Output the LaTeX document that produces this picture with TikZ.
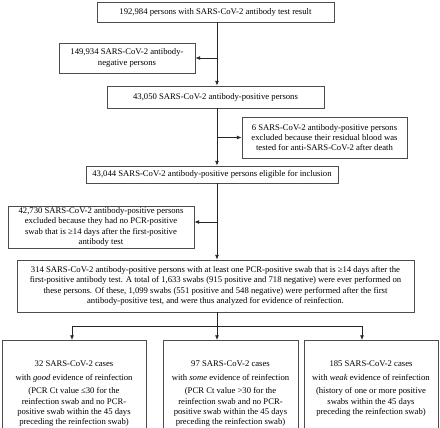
\documentclass[tikz,border=0pt]{standalone}
\usepackage{fontspec}
\setmainfont{Liberation Serif}
\usetikzlibrary{arrows.meta}

\begin{document}
\begin{tikzpicture}[x=0.75pt,y=-0.75pt,
  box/.style={draw=black!70,line width=0.6pt,align=center,inner sep=0pt,font=\fontsize{6.5}{7.7}\selectfont},
  endbox/.style={box,anchor=north,inner ysep=15.5pt},
  link/.style={line width=0.6pt,draw=black!85},
  arr/.style={link,-{Latex[length=3.5pt,width=3pt]}}]
\useasboundingbox (0,0) rectangle (440,428);
\clip (0,0) rectangle (440,428);

% main column
\node[box,minimum width=177.75pt,minimum height=15pt] (b1) at (215.5,12) {192,984 persons with SARS-CoV-2 antibody test result};
\node[box,minimum width=102pt,minimum height=22.5pt] (b2) at (127,58) {149,934 SARS-CoV-2 antibody-\\negative persons};
\node[box,minimum width=162.75pt,minimum height=16.5pt] (b3) at (215.5,97) {43,050 SARS-CoV-2 antibody-positive persons};
\node[box,minimum width=123.75pt,minimum height=30.75pt] (b4) at (324.5,137.5) {6 SARS-CoV-2 antibody-positive persons\\excluded because their residual blood was\\tested for anti-SARS-CoV-2 after death};
\node[box,minimum width=189pt,minimum height=12.75pt] (b5) at (212,174.5) {43,044 SARS-CoV-2 antibody-positive persons eligible for inclusion};
\node[box,minimum width=139.5pt,minimum height=31.5pt] (b6) at (101,227) {42,730 SARS-CoV-2 antibody-positive persons\\excluded because they had no PCR-positive\\swab that is ≥14 days after the first-positive\\antibody test};
\node[box,minimum width=297.75pt,minimum height=39pt] (b7) at (215.5,286) {314 SARS-CoV-2 antibody-positive persons with at least one PCR-positive swab that is ≥14 days after the\\first-positive antibody test. A total of 1,633 swabs (915 positive and 718 negative) were ever performed on\\these persons. Of these, 1,099 swabs (551 positive and 548 negative) were performed after the first\\antibody-positive test, and were thus analyzed for evidence of reinfection.};

% three outcomes
\node[endbox] (ba) at (74,340) {\begin{minipage}[t][80pt][t]{108pt}\centering
32 SARS-CoV-2 cases\\[2.4pt]with \textit{good} evidence of reinfection\\[2.4pt](PCR Ct value ≤30 for the\\reinfection swab and no PCR-\\positive swab within the 45 days\\preceding the reinfection swab)\end{minipage}};
\node[endbox] (bb) at (230.5,340) {\begin{minipage}[t][80pt][t]{101.25pt}\centering
97 SARS-CoV-2 cases\\[2.4pt]with \textit{some} evidence of reinfection\\[2.4pt](PCR Ct value >30 for the\\reinfection swab and no PCR-\\positive swab within the 45 days\\preceding the reinfection swab)\end{minipage}};
\node[endbox] (bc) at (371,340) {\begin{minipage}[t][80pt][t]{100.5pt}\centering
185 SARS-CoV-2 cases\\[2.4pt]with \textit{weak} evidence of reinfection\\[2.4pt](history of one or more positive\\swabs within the 45 days\\preceding the reinfection swab)\end{minipage}};

\coordinate (tx) at (217,0);
\coordinate (b6in) at ([yshift=3.75pt]b6.east);
\coordinate (ja) at (72,326);
\coordinate (jb) at (217,326);
\coordinate (jc) at (362,326);

\draw[arr] (b1.south -| tx) -- (b3.north -| tx);
\draw[arr] (b2.east -| tx) -- (b2.east);
\draw[arr] (b3.south -| tx) -- (b5.north -| tx);
\draw[arr] (b4.west -| tx) -- (b4.west);
\draw[arr] (b5.south -| tx) -- (b7.north -| tx);
\draw[arr] (b6in -| tx) -- (b6in);

\draw[link] (b7.south -| jb) -- (jb);
\draw[link] (ja) -- (jc);
\draw[arr] (ja) -- (ja |- ba.north);
\draw[arr] (jb) -- (jb |- bb.north);
\draw[arr] (jc) -- (jc |- bc.north);
\end{tikzpicture}
\end{document}
